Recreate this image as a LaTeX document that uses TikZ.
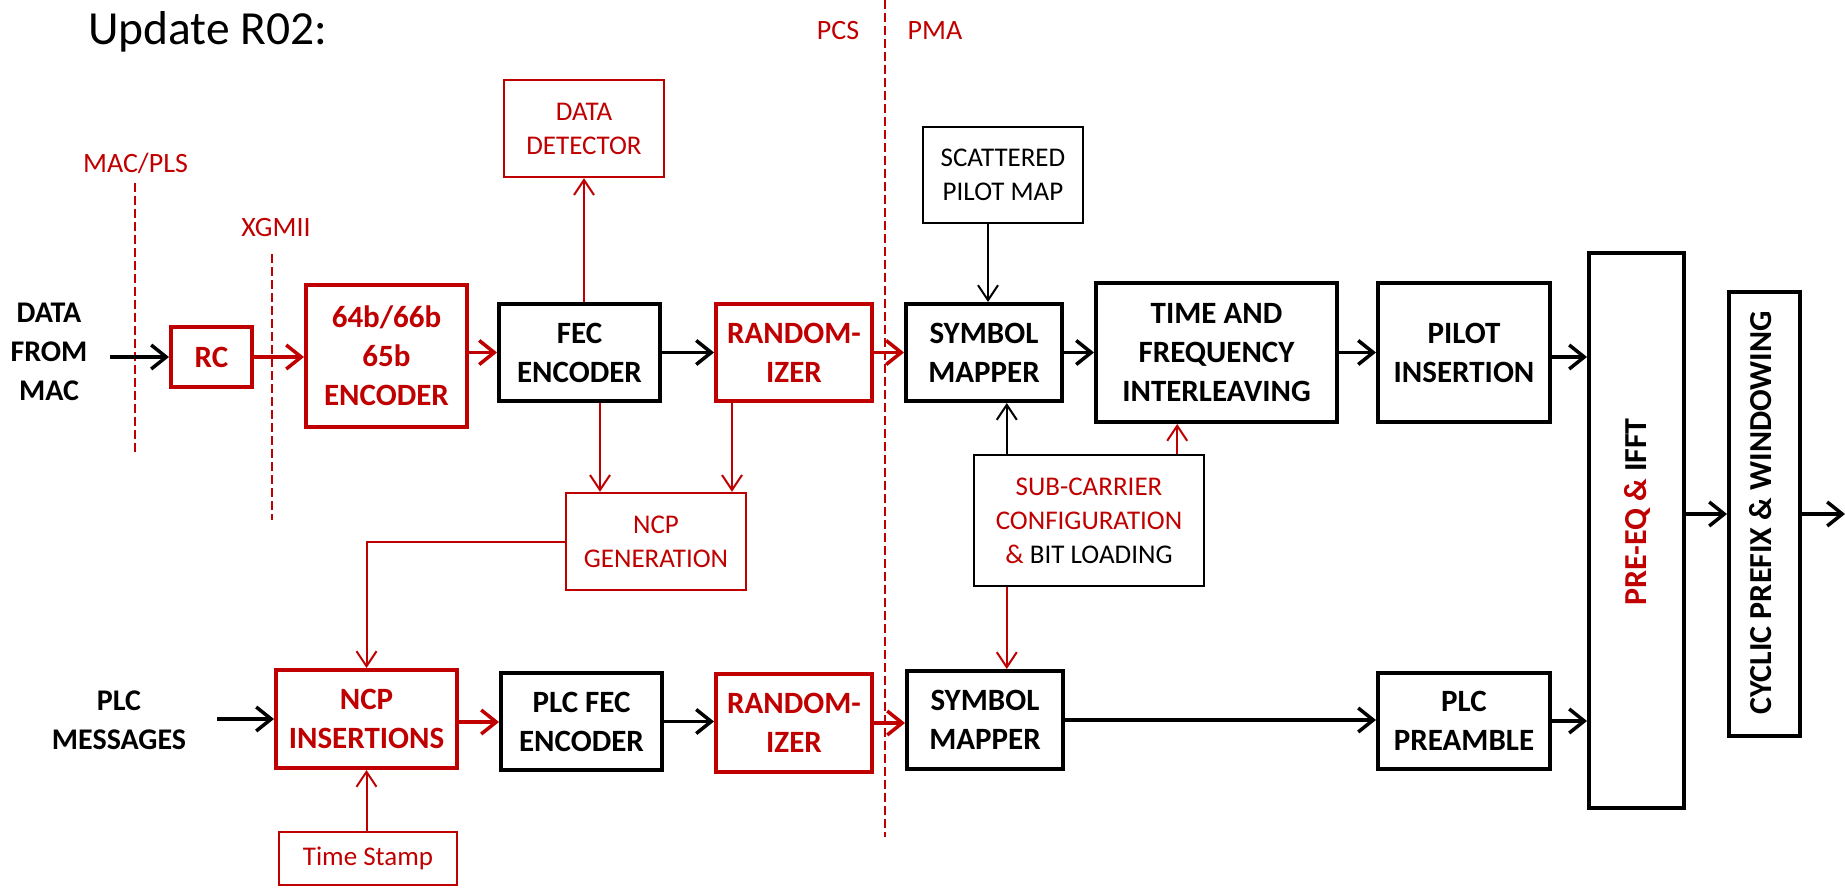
\documentclass[tikz,border=0pt]{standalone}
\usepackage{fontspec}
\setmainfont{Carlito}
\usetikzlibrary{arrows.meta,calc}
\definecolor{dred}{HTML}{C00000}
\begin{document}
\begin{tikzpicture}[x=1pt,y=-1pt,
  box/.style={draw, line width=4pt, inner sep=0pt, align=center, font=\fontsize{31}{39}\selectfont\bfseries},
  rbox/.style={box, draw=dred, text=dred},
  tbox/.style={draw, line width=2.4pt, inner sep=0pt, align=center, font=\fontsize{27}{34}\selectfont},
  rtbox/.style={tbox, draw=dred, text=dred},
  flow/.style={line width=3.5pt, -{Straight Barb[length=15pt,width=24pt]}},
  rflow/.style={flow, draw=dred},
  thinar/.style={line width=2pt, -{Straight Barb[length=15pt,width=20pt]}},
  rthinar/.style={thinar, draw=dred},
  sep/.style={draw=dred, line width=2pt, dash pattern=on 9pt off 4pt},
  lbl/.style={text=dred, font=\fontsize{28}{33}\selectfont, inner sep=0pt, anchor=base},
  plain/.style={align=center, inner sep=0pt, font=\fontsize{30}{39}\selectfont\bfseries},
  vert/.style={rotate=90, inner sep=0pt, font=\fontsize{32}{38}\selectfont\bfseries},
  ]
\useasboundingbox (0,0) rectangle (1845,888);

% title and labels
\node[anchor=base west, font=\fontsize{47.5}{54}\selectfont, inner sep=0pt] (title) at (88,45) {Update R02:};
\node[lbl] (macpls) at (135.5,172) {MAC/PLS};
\node[lbl] (xgmii) at (276,236) {XGMII};
\node[lbl] (pcs) at (838,40) {PCS};
\node[lbl] (pma) at (935,40) {PMA};
\node[plain] (datamac) at (49,352) {DATA\\FROM\\MAC};
\node[plain] (plcmsg) at (119,720) {PLC\\MESSAGES};

% separators
\coordinate (s1a) at (135,183); \coordinate (s1b) at (135,453);
\coordinate (s2a) at (272,254); \coordinate (s2b) at (272,520);
\coordinate (s3a) at (885,0);   \coordinate (s3b) at (885,837);
\draw[sep] (s1a) -- (s1b);
\draw[sep] (s2a) -- (s2b);
\draw[sep] (s3a) -- (s3b);

% boxes
\node[rbox, minimum width=81pt, minimum height=60pt] (rc) at (211.5,357) {RC};
\node[rbox, minimum width=161pt, minimum height=142pt] (enc) at (386.5,356) {64b/66b\\65b\\ENCODER};
\node[box, minimum width=161pt, minimum height=97pt] (fec) at (579.5,352.5) {FEC\\ENCODER};
\node[rtbox, minimum width=160pt, minimum height=97pt] (dd) at (584,128.5) {DATA\\DETECTOR};
\node[rbox, minimum width=156pt, minimum height=97pt] (rand1) at (794,352.5) {RANDOM-\\IZER};
\node[box, minimum width=156pt, minimum height=97pt] (sm1) at (984,352.5) {SYMBOL\\MAPPER};
\node[tbox, minimum width=160pt, minimum height=96pt] (spm) at (1003,175) {SCATTERED\\PILOT MAP};
\node[box, minimum width=241pt, minimum height=139pt] (tfi) at (1216.5,352.5) {TIME AND\\FREQUENCY\\INTERLEAVING};
\node[box, minimum width=172pt, minimum height=139pt] (pilot) at (1464,352.5) {PILOT\\INSERTION};
\node[box, minimum width=95pt, minimum height=555pt] (preeq) at (1636.5,530.5) {};
\node[vert] (preeqtxt) at (1637,512) {\textcolor{dred}{PRE-EQ \&} IFFT};
\node[box, minimum width=71pt, minimum height=444pt] (cp) at (1764.5,514) {};
\node[vert] (cptxt) at (1761,513) {CYCLIC PREFIX \& WINDOWING};
\node[rtbox, minimum width=180pt, minimum height=97pt] (ncpgen) at (656,541.5) {NCP\\GENERATION};
\node[tbox, minimum width=230pt, minimum height=131pt] (sc) at (1089,520.5) {\textcolor{dred}{SUB-CARRIER}\\\textcolor{dred}{CONFIGURATION}\\\textcolor{dred}{\&} BIT LOADING};
\node[rbox, minimum width=181pt, minimum height=98pt] (ncpins) at (366.5,719) {NCP\\INSERTIONS};
\node[box, minimum width=161pt, minimum height=97pt] (plcfec) at (581.5,721.5) {PLC FEC\\ENCODER};
\node[rbox, minimum width=156pt, minimum height=98pt] (rand2) at (794,723) {RANDOM-\\IZER};
\node[box, minimum width=156pt, minimum height=98pt] (sm2) at (985,720) {SYMBOL\\MAPPER};
\node[box, minimum width=172pt, minimum height=96pt] (plcp) at (1464,721) {PLC\\PREAMBLE};
\node[rtbox, minimum width=178pt, minimum height=53pt] (ts) at (368,858.5) {Time Stamp};

% main data path
\coordinate (din) at (110,357);
\draw[flow] (din) -- (rc.west);
\draw[rflow] (rc.east) -- (rc.east -| enc.west);
\draw[rflow] (enc.east |- fec.west) -- (fec.west);
\draw[flow] (fec.east) -- (rand1.west);
\draw[rflow] (rand1.east) -- (sm1.west);
\draw[flow] (sm1.east) -- (sm1.east -| tfi.west);
\draw[flow] (tfi.east) -- (pilot.west);
\draw[flow] ([yshift=-4.5pt]pilot.east) -- ([yshift=-4.5pt]pilot.east -| preeq.west);
\draw[flow] (preeq.east |- cp.west) -- (cp.west);
\coordinate (out) at (1845,514);
\draw[flow] (cp.east) -- (out);

% side branches
\draw[rthinar] (dd.south |- fec.north) -- (dd.south);
\draw[thinar] ([xshift=-15pt]spm.south) -- ([xshift=-15pt]spm.south |- sm1.north);
\draw[thinar] ([xshift=34pt]sc.north west) -- ([xshift=34pt]sc.north west |- sm1.south);
\draw[rthinar] ([xshift=-28pt]sc.north east) -- ([xshift=-28pt]sc.north east |- tfi.south);
\draw[rthinar] ([xshift=34pt]sc.south west) -- ([xshift=34pt]sc.south west |- sm2.north);
\draw[rthinar] ([xshift=20.5pt]fec.south) -- ([xshift=20.5pt]fec.south |- ncpgen.north);
\draw[rthinar] ([xshift=-62pt]rand1.south) -- ([xshift=-62pt]rand1.south |- ncpgen.north);
\draw[rthinar] (ncpgen.west) -| (ncpins.north);
\draw[rthinar] (ncpins.south |- ts.north) -- (ncpins.south);

% PLC path
\coordinate (plcin) at (217,719);
\draw[flow] (plcin) -- (ncpins.west);
\draw[rflow] ([yshift=-3pt]ncpins.east) -- ([yshift=-3pt]ncpins.east -| plcfec.west);
\draw[flow] (plcfec.east) -- (plcfec.east -| rand2.west);
\draw[rflow] (rand2.east) -- (rand2.east -| sm2.west);
\draw[flow] (sm2.east) -- (sm2.east -| plcp.west);
\draw[flow] (plcp.east) -- (plcp.east -| preeq.west);
\end{tikzpicture}
\end{document}
